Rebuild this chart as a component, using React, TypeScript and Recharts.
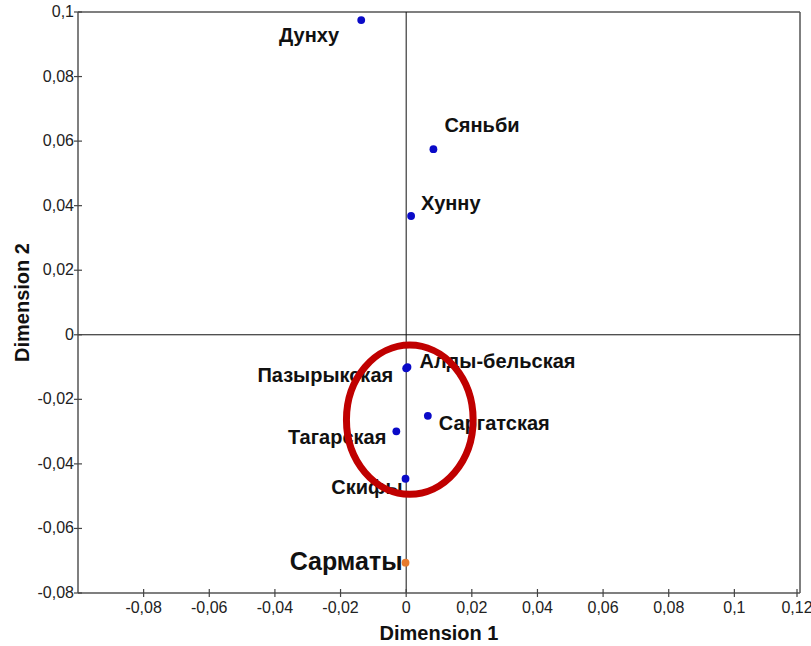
import React from 'react';
import {
  ScatterChart,
  Scatter,
  XAxis,
  YAxis,
  ReferenceLine,
  ReferenceArea,
} from 'recharts';

// MDS coordinates
const names = [
  'Дунху',
  'Сяньби',
  'Хунну',
  'Алды-бельская',
  'Пазырыкская',
  'Саргатская',
  'Тагарская',
  'Скифы',
];
const dim1 = [-0.0137, 0.0083, 0.0015, 0.0004, 0.0, 0.0066, -0.003, -0.0002];
const dim2 = [0.0975, 0.0575, 0.0368, -0.01, -0.0104, -0.0251, -0.0299, -0.0446];

const targetName = 'Сарматы';
const targetDim1 = -0.0002;
const targetDim2 = -0.0706;

const xTicks = [-0.08, -0.06, -0.04, -0.02, 0, 0.02, 0.04, 0.06, 0.08, 0.1, 0.12];
const yTicks = [-0.08, -0.06, -0.04, -0.02, 0, 0.02, 0.04, 0.06, 0.08, 0.1];

// highlighted cluster (ellipse bounds)
const clusterX = [-0.0182, 0.0204];
const clusterY = [-0.0494, -0.0032];

// label placement relative to each dot (px)
const labelPos: Record<string, { dx: number; dy: number; anchor: string }> = {
  'Дунху': { dx: -22, dy: 15, anchor: 'end' },
  'Сяньби': { dx: 11, dy: -24, anchor: 'start' },
  'Хунну': { dx: 10, dy: -13, anchor: 'start' },
  'Алды-бельская': { dx: 12, dy: -6, anchor: 'start' },
  'Пазырыкская': { dx: -13, dy: 7, anchor: 'end' },
  'Саргатская': { dx: 11, dy: 7, anchor: 'start' },
  'Тагарская': { dx: -10, dy: 6, anchor: 'end' },
  'Скифы': { dx: -3, dy: 8, anchor: 'end' },
  'Сарматы': { dx: -3, dy: -1, anchor: 'end' },
};

const FONT = '"Liberation Sans", Arial, sans-serif';

const points = names.map((name, i) => ({ name, x: dim1[i], y: dim2[i] }));
const target = [{ name: targetName, x: targetDim1, y: targetDim2 }];

const fmt = (v: number) => String(Number(v.toFixed(2))).replace('.', ',');

const XTick = (props: any) => {
  const { x, y, payload } = props;
  return (
    <g>
      <line x1={x} x2={x} y1={y - 4} y2={y + 4} stroke="#444" strokeWidth={1.2} />
      <text x={x} y={y + 20} textAnchor="middle" fontSize={16} fill="#222" fontFamily={FONT}>
        {fmt(payload.value)}
      </text>
    </g>
  );
};

const YTick = (props: any) => {
  const { x, y, payload } = props;
  return (
    <g>
      <line x1={x - 4} x2={x + 4} y1={y} y2={y} stroke="#444" strokeWidth={1.2} />
      <text x={x - 4} y={y + 5} textAnchor="end" fontSize={16} fill="#222" fontFamily={FONT}>
        {fmt(payload.value)}
      </text>
    </g>
  );
};

const makeShape = (color: string, fontSize: number) => (props: any) => {
  const { cx, cy, payload } = props;
  const pos = labelPos[payload.name];
  return (
    <g>
      <text
        x={cx + pos.dx}
        y={cy + pos.dy}
        dy="0.35em"
        textAnchor={pos.anchor}
        fontSize={fontSize}
        fontWeight="bold"
        fill="#111"
        fontFamily={FONT}
      >
        {payload.name}
      </text>
      <circle cx={cx} cy={cy} r={3.9} fill={color} />
    </g>
  );
};

const EllipseShape = (props: any) => {
  const { x, y, width, height } = props;
  return (
    <ellipse
      cx={x + width / 2}
      cy={y + height / 2}
      rx={Math.abs(width) / 2}
      ry={Math.abs(height) / 2}
      fill="none"
      stroke="#c00000"
      strokeWidth={7}
    />
  );
};

export default function App() {
  return (
    <div style={{ position: 'absolute', left: 0, top: 0, background: '#fff' }}>
      <ScatterChart
        width={811}
        height={646}
        margin={{ top: 12, right: 11, left: 0, bottom: 0 }}
      >
        <XAxis
          type="number"
          dataKey="x"
          domain={[-0.1, 0.12]}
          ticks={xTicks}
          allowDataOverflow
          height={53}
          tickSize={0}
          tickMargin={0}
          tick={<XTick />}
          tickLine={false}
          axisLine={{ stroke: '#555', strokeWidth: 1.5 }}
          label={(p: any) => {
            const vb = p.viewBox;
            return (
              <text
                x={vb.x + vb.width / 2}
                y={633}
                dy="0.35em"
                textAnchor="middle"
                fontSize={20}
                fontWeight="bold"
                fill="#111"
                fontFamily={FONT}
              >
                Dimension 1
              </text>
            );
          }}
        />
        <YAxis
          type="number"
          dataKey="y"
          domain={[-0.08, 0.1]}
          ticks={yTicks}
          allowDataOverflow
          width={78}
          tickSize={0}
          tickMargin={0}
          tick={<YTick />}
          tickLine={false}
          axisLine={{ stroke: '#555', strokeWidth: 1.5 }}
          label={(p: any) => {
            const vb = p.viewBox;
            const cy = vb.y + vb.height / 2;
            return (
              <text
                x={22}
                y={cy}
                dy="0.35em"
                textAnchor="middle"
                transform={`rotate(-90, 22, ${cy})`}
                fontSize={20}
                fontWeight="bold"
                fill="#111"
                fontFamily={FONT}
              >
                Dimension 2
              </text>
            );
          }}
        />
        <ReferenceLine y={0.1} stroke="#555" strokeWidth={1.5} />
        <ReferenceLine x={0.12} stroke="#555" strokeWidth={1.5} />
        <ReferenceLine x={0} stroke="#111" strokeWidth={1} />
        <ReferenceLine y={0} stroke="#111" strokeWidth={1} />
        <Scatter
          data={points}
          isAnimationActive={false}
          shape={makeShape('#0a0ac8', 20)}
        />
        <Scatter
          data={target}
          isAnimationActive={false}
          shape={makeShape('#e67a2e', 25)}
        />
        <ReferenceArea
          x1={clusterX[0]}
          x2={clusterX[1]}
          y1={clusterY[0]}
          y2={clusterY[1]}
          shape={<EllipseShape />}
          zIndex={1000}
        />
      </ScatterChart>
    </div>
  );
}
